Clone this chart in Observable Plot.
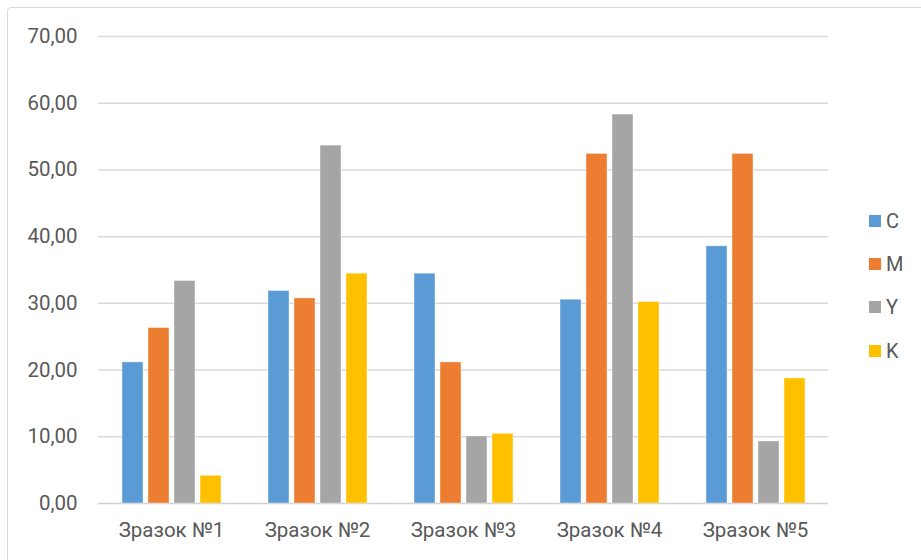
<!DOCTYPE html>
<html><head><meta charset="utf-8">
<script src="https://cdn.jsdelivr.net/npm/d3@7"></script>
<script src="https://cdn.jsdelivr.net/npm/@observablehq/plot@0.6"></script>
<style>
body{margin:0;background:#fff;}
#wrap{position:relative;width:921px;height:560px;overflow:hidden;font-family:Roboto,"Open Sans",sans-serif;}
#frame{position:absolute;left:7px;top:7px;width:930px;height:570px;border:1.5px solid #d9d9d9;border-radius:4px;box-sizing:border-box;}
#chart{position:absolute;left:0;top:0;}
#legend{position:absolute;left:869px;top:199px;}
.item{display:flex;align-items:center;height:43.3px;font-size:20px;color:#595959;}
.sw{width:12px;height:12px;margin-right:5px;}
</style></head>
<body>
<div id="wrap"><div id="frame"></div><div id="chart"></div><div id="legend"></div></div>
<script>
const categories = ["Зразок №1","Зразок №2","Зразок №3","Зразок №4","Зразок №5"];
const series = ["C","M","Y","K"];
const C = [21.15,31.85,34.45,30.55,38.55];
const M = [26.3,30.75,21.15,52.4,52.4];
const Y = [33.35,53.65,10.05,58.3,9.3];
const K = [4.15,34.45,10.45,30.2,18.75];
const colors = ["#5B9BD5","#ED7D31","#A5A5A5","#FFC000"];
const yTicks = [0,10,20,30,40,50,60,70];

const valuesBySeries = {C, M, Y, K};
const data = [];
categories.forEach((g, i) => series.forEach(s => data.push({group: g, series: s, value: valuesBySeries[s][i]})));

const chart = Plot.plot({
  width: 921, height: 560,
  marginLeft: 98, marginRight: 93, marginTop: 36, marginBottom: 57,
  style: {fontFamily: 'Roboto,"Open Sans",sans-serif', fontSize: "20.5px", color: "#595959", background: "transparent"},
  fx: {domain: categories, padding: 0, label: null, axis: "bottom", tickSize: 0, tickPadding: 19},
  x: {domain: series, paddingInner: 0.2, paddingOuter: 0.865, axis: null},
  y: {domain: [0, 70], axis: null},
  color: {domain: series, range: colors},
  marks: [
    Plot.ruleY(yTicks.filter(d => d > 0), {stroke: "#d9d9d9", strokeWidth: 1.5}),
    Plot.ruleY([0], {stroke: "#d0d0d0", strokeWidth: 1.5}),
    Plot.axisY(yTicks, {tickSize: 0, tickPadding: 21, tickFormat: d => d.toFixed(2).replace(".", ","), label: null, fill: "#595959"}),
    Plot.barY(data, {fx: "group", x: "series", y: "value", fill: "series", stroke: "#ffffff", strokeOpacity: 0.5, strokeWidth: 0.8})
  ]
});
document.getElementById("chart").appendChild(chart);

const legend = document.getElementById("legend");
series.forEach((s, i) => {
  const it = document.createElement("div");
  it.className = "item";
  const sw = document.createElement("span");
  sw.className = "sw";
  sw.style.background = colors[i];
  const t = document.createElement("span");
  t.textContent = s;
  it.appendChild(sw); it.appendChild(t);
  legend.appendChild(it);
});
</script>
</body></html>
